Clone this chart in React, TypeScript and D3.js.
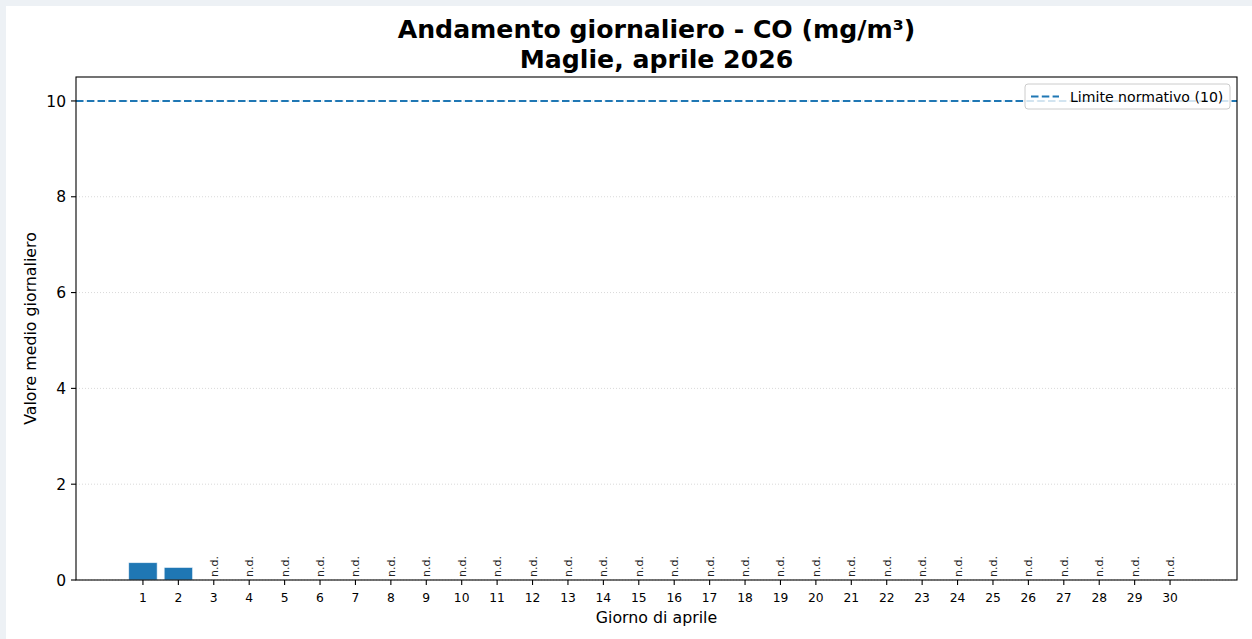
import React, {useEffect, useRef} from 'react';
import * as d3 from 'd3';

const days = d3.range(1, 31);
// daily mean CO values; null = no data (n.d.)
const values: (number | null)[] = [0.36, 0.26, ...Array(28).fill(null)];
const yTicks = [0, 2, 4, 6, 8, 10];
const limitValue = 10;
const titleLines = ['Andamento giornaliero - CO (mg/m³)', 'Maglie, aprile 2026'];

const W = 1252;
const H = 639;
const FONT = 'DejaVu Sans, sans-serif';

export default function App() {
  const ref = useRef<SVGSVGElement>(null);

  useEffect(() => {
    const svg = d3.select(ref.current);
    svg.selectAll('*').remove();

    svg.append('rect').attr('width', W).attr('height', H).attr('fill', '#edf1f5');
    svg.append('rect').attr('x', 6).attr('y', 6).attr('width', W - 6).attr('height', H - 6).attr('fill', '#fff');

    const margin = {top: 77, right: 15, bottom: 59, left: 76};
    const width = W - margin.left - margin.right;
    const height = H - margin.top - margin.bottom;

    const barW = 0.8;
    const lo = 1 - barW / 2, hi = 30 + barW / 2;
    const pad = (hi - lo) * 0.05;
    const x = d3.scaleLinear().domain([lo - pad, hi + pad]).range([0, width]);
    const y = d3.scaleLinear().domain([0, 10.5]).range([height, 0]);

    const g = svg.append('g').attr('transform', `translate(${margin.left},${margin.top})`);

    // grid
    g.selectAll('.grid')
      .data(yTicks)
      .enter().append('line')
      .attr('x1', 0).attr('x2', width)
      .attr('y1', d => y(d)).attr('y2', d => y(d))
      .attr('stroke', '#d9d9d9')
      .attr('stroke-width', 1)
      .attr('stroke-dasharray', '1,2');

    // bars
    const data = days.map((d, i) => ({day: d, v: values[i]}));
    g.selectAll('.bar')
      .data(data.filter(d => d.v !== null))
      .enter().append('rect')
      .attr('x', d => x(d.day - barW / 2))
      .attr('y', d => y(d.v as number))
      .attr('width', x(barW) - x(0))
      .attr('height', d => height - y(d.v as number))
      .attr('fill', '#1f77b4')
      .attr('stroke', '#e8f0f8')
      .attr('stroke-width', 0.6);

    // n.d. labels
    g.selectAll('.nd')
      .data(data.filter(d => d.v === null))
      .enter().append('text')
      .attr('transform', d => `translate(${x(d.day) + 4},${height - 3}) rotate(-90)`)
      .attr('font-family', FONT)
      .attr('font-size', 11)
      .attr('fill', '#222')
      .text('n.d.');

    // limit line
    g.append('line')
      .attr('x1', 0).attr('x2', width)
      .attr('y1', y(limitValue)).attr('y2', y(limitValue))
      .attr('stroke', '#1f77b4')
      .attr('stroke-width', 2)
      .attr('stroke-dasharray', '7.5,3.3');

    // axes frame
    g.append('rect')
      .attr('width', width).attr('height', height)
      .attr('fill', 'none').attr('stroke', '#000').attr('stroke-width', 1.1);

    // x ticks
    const xt = g.append('g').attr('transform', `translate(0,${height})`);
    days.forEach(d => {
      xt.append('line').attr('x1', x(d)).attr('x2', x(d)).attr('y1', 0).attr('y2', 5)
        .attr('stroke', '#000').attr('stroke-width', 1.1);
      xt.append('text').attr('x', x(d)).attr('y', 22)
        .attr('text-anchor', 'middle').attr('font-family', FONT).attr('font-size', 12.3)
        .attr('fill', '#000').text(d);
    });

    // y ticks
    const yt = g.append('g');
    yTicks.forEach(t => {
      yt.append('line').attr('x1', -5).attr('x2', 0).attr('y1', y(t)).attr('y2', y(t))
        .attr('stroke', '#000').attr('stroke-width', 1.1);
      yt.append('text').attr('x', -10).attr('y', y(t)).attr('dy', '0.36em')
        .attr('text-anchor', 'end').attr('font-family', FONT).attr('font-size', 15.5)
        .attr('fill', '#000').text(t);
    });

    // axis labels
    svg.append('text')
      .attr('x', margin.left + width / 2).attr('y', 623)
      .attr('text-anchor', 'middle').attr('font-family', FONT).attr('font-size', 15.8)
      .text('Giorno di aprile');
    svg.append('text')
      .attr('transform', `translate(36,${margin.top + height / 2}) rotate(-90)`)
      .attr('text-anchor', 'middle').attr('font-family', FONT).attr('font-size', 15.8)
      .text('Valore medio giornaliero');

    // title
    titleLines.forEach((t, i) => {
      svg.append('text')
        .attr('x', margin.left + width / 2).attr('y', 38 + i * 30)
        .attr('text-anchor', 'middle').attr('font-family', FONT)
        .attr('font-size', 25.2).attr('font-weight', 'bold')
        .text(t);
    });

    // legend
    const lg = svg.append('g').attr('transform', `translate(1025,84)`);
    lg.append('rect').attr('width', 205).attr('height', 25).attr('rx', 3)
      .attr('fill', '#fff').attr('fill-opacity', 0.8)
      .attr('stroke', '#ccc').attr('stroke-width', 1);
    lg.append('line').attr('x1', 6).attr('x2', 34).attr('y1', 12.5).attr('y2', 12.5)
      .attr('stroke', '#1f77b4').attr('stroke-width', 2).attr('stroke-dasharray', '7.5,3.3');
    lg.append('text').attr('x', 45).attr('y', 12.5).attr('dy', '0.36em')
      .attr('font-family', FONT).attr('font-size', 14.1).text(`Limite normativo (${limitValue})`);
  }, []);

  return <svg ref={ref} width={W} height={H} style={{position: 'absolute', left: 0, top: 0}} />;
}
